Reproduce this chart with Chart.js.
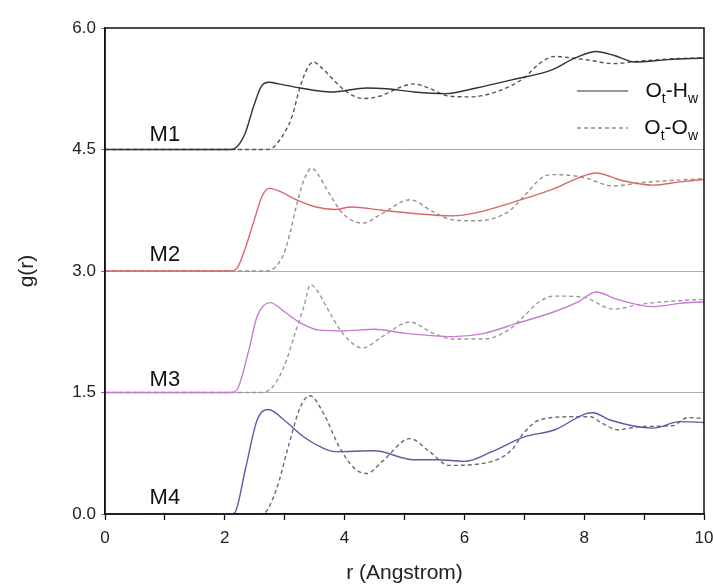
<html>
  <head>
    <script src="https://cdn.jsdelivr.net/npm/chart.js@4.4.1/dist/chart.umd.min.js"></script>
    <style>
      body { margin: 0; background: #fff; }
      #wrap { width: 713px; height: 586px; }
    </style>
  </head>
  <body>
    <div id="wrap"><canvas id="rdf"></canvas></div>

    <script>
      // g(r) curves, shown stacked (M1 on top, M4 at the bottom)
      // each point is [r in Angstrom, plotted g(r)]
      var m1Hw = [[0,4.5],[2.1,4.5],[2.2,4.53],[2.34,4.7],[2.48,5.03],[2.61,5.28],[2.74,5.33],[2.9,5.31],[3.26,5.26],[3.77,5.21],[4.37,5.26],[4.7,5.25],[5.16,5.21],[5.68,5.19],[6.2,5.26],[6.79,5.36],[7.45,5.48],[7.85,5.63],[8.2,5.71],[8.5,5.66],[8.85,5.58],[9.4,5.61],[10,5.63]];
      var m1Ow = [[0,4.5],[2.7,4.5],[2.8,4.52],[2.92,4.62],[3.02,4.74],[3.12,4.9],[3.26,5.28],[3.39,5.52],[3.48,5.58],[3.6,5.52],[3.84,5.34],[4.04,5.21],[4.3,5.13],[4.6,5.16],[4.9,5.26],[5.15,5.31],[5.4,5.26],[5.74,5.16],[6.1,5.15],[6.6,5.23],[6.99,5.38],[7.25,5.56],[7.51,5.65],[7.8,5.63],[8.1,5.6],[8.49,5.56],[8.9,5.59],[9.5,5.62],[10,5.63]];
      var m2Hw = [[0,3],[2.1,3],[2.2,3.03],[2.35,3.3],[2.5,3.65],[2.62,3.92],[2.74,4.02],[2.9,3.99],[3.19,3.88],[3.52,3.79],[3.84,3.76],[4.11,3.79],[4.62,3.75],[5.15,3.71],[5.81,3.68],[6.2,3.72],[6.86,3.86],[7.51,4.02],[7.9,4.15],[8.2,4.21],[8.62,4.12],[9.15,4.06],[9.6,4.1],[10,4.13]];
      var m2Ow = [[0,3],[2.7,3],[2.8,3.02],[2.99,3.22],[3.1,3.5],[3.19,3.79],[3.32,4.12],[3.45,4.27],[3.55,4.2],[3.71,4.0],[3.97,3.71],[4.3,3.59],[4.63,3.71],[5.09,3.88],[5.48,3.73],[5.81,3.63],[6.2,3.62],[6.73,3.73],[6.99,3.92],[7.31,4.16],[7.51,4.19],[7.96,4.16],[8.49,4.05],[8.95,4.09],[9.5,4.12],[10,4.14]];
      var m3Hw = [[0,1.5],[2.1,1.5],[2.2,1.53],[2.4,2.02],[2.54,2.44],[2.76,2.61],[2.99,2.5],[3.26,2.36],[3.58,2.27],[3.97,2.26],[4.5,2.28],[5.02,2.23],[5.81,2.19],[6.33,2.23],[6.86,2.35],[7.51,2.5],[7.9,2.62],[8.2,2.74],[8.55,2.65],[9.15,2.56],[9.6,2.6],[10,2.62]];
      var m3Ow = [[0,1.5],[2.6,1.5],[2.8,1.57],[2.99,1.82],[3.19,2.27],[3.32,2.56],[3.43,2.83],[3.55,2.75],[3.71,2.54],[3.97,2.23],[4.3,2.05],[4.63,2.19],[5.09,2.37],[5.48,2.23],[5.81,2.16],[6.33,2.16],[6.73,2.27],[6.99,2.44],[7.25,2.62],[7.51,2.69],[7.96,2.68],[8.49,2.53],[8.95,2.59],[9.5,2.63],[10,2.65]];
      var m4Hw = [[0,0],[2.1,0],[2.17,0.02],[2.34,0.54],[2.54,1.16],[2.73,1.29],[2.99,1.16],[3.32,0.95],[3.65,0.81],[3.84,0.77],[4.5,0.78],[5.15,0.67],[5.54,0.67],[6.0,0.65],[6.46,0.77],[6.99,0.95],[7.51,1.04],[8.03,1.24],[8.15,1.25],[8.43,1.16],[9.15,1.06],[9.6,1.14],[10,1.13]];
      var m4Ow = [[0,0],[2.63,0],[2.86,0.3],[3.06,0.83],[3.26,1.32],[3.42,1.46],[3.65,1.24],[3.91,0.83],[4.17,0.56],[4.37,0.5],[4.63,0.65],[5.09,0.93],[5.42,0.77],[5.74,0.6],[6.46,0.65],[6.79,0.79],[6.99,1.0],[7.25,1.16],[7.77,1.2],[8.1,1.2],[8.3,1.12],[8.56,1.04],[8.95,1.08],[9.47,1.09],[9.73,1.19],[10,1.18]];

      var models = ['M1', 'M2', 'M3', 'M4'];
      var modelLabelY = [4.68, 3.20, 1.66, 0.20];
      var modelLabelR = 1.0;
      var yTicks = [0, 1.5, 3.0, 4.5, 6.0];
      var legendParts = [['O', 't', '-H', 'w'], ['O', 't', '-O', 'w']];

      var solidColors = ['#333333', '#d46a6e', '#c77bd0', '#5b5ca3'];
      var dashColors = ['#555555', '#a08c8e', '#a094a4', '#6a6a78'];

      Chart.defaults.font.family = '"Liberation Sans", Arial, sans-serif';
      Chart.defaults.color = '#222';

      function toXY(arr) {
        return arr.map(function (p) { return {x: p[0], y: p[1]}; });
      }

      var hw = [m1Hw, m2Hw, m3Hw, m4Hw];
      var ow = [m1Ow, m2Ow, m3Ow, m4Ow];
      var sets = [];
      for (var i = 0; i < 4; i++) {
        sets.push({
          label: models[i] + ' Ot-Hw', data: toXY(hw[i]),
          borderColor: solidColors[i], borderWidth: 1.4, clip: 2,
          pointRadius: 0, fill: false, tension: 0.4, cubicInterpolationMode: 'monotone'
        });
        sets.push({
          label: models[i] + ' Ot-Ow', data: toXY(ow[i]),
          borderColor: dashColors[i], borderWidth: 1.4, borderDash: [4, 3], clip: 2,
          pointRadius: 0, fill: false, tension: 0.4, cubicInterpolationMode: 'monotone'
        });
      }

      function drawRich(ctx, parts, xRight, yMid) {
        var big = '21px "Liberation Sans", Arial, sans-serif';
        var small = '14px "Liberation Sans", Arial, sans-serif';
        var w = 0;
        parts.forEach(function (s, k) {
          ctx.font = (k % 2) ? small : big;
          w += ctx.measureText(s).width;
        });
        var xx = xRight - w;
        parts.forEach(function (s, k) {
          ctx.font = (k % 2) ? small : big;
          ctx.fillText(s, xx, yMid + ((k % 2) ? 8 : 0));
          xx += ctx.measureText(s).width;
        });
      }

      var notes = {
        id: 'notes',
        afterDraw: function (chart) {
          var ctx = chart.ctx, a = chart.chartArea;
          var x = chart.scales.x, y = chart.scales.y;
          ctx.save();
          ctx.strokeStyle = '#111';
          ctx.lineWidth = 1.5;
          ctx.strokeRect(a.left, a.top, a.right - a.left, a.bottom - a.top);

          ctx.fillStyle = '#111';
          ctx.font = '22px "Liberation Sans", Arial, sans-serif';
          ctx.textAlign = 'center';
          ctx.textBaseline = 'middle';
          models.forEach(function (m, k) {
            ctx.fillText(m, x.getPixelForValue(modelLabelR), y.getPixelForValue(modelLabelY[k]));
          });

          // legend, top right
          var rows = [a.top + 63, a.top + 100];
          ctx.lineWidth = 1.2;
          ctx.strokeStyle = '#333';
          ctx.setLineDash([]);
          ctx.beginPath(); ctx.moveTo(a.right - 127, rows[0]); ctx.lineTo(a.right - 76, rows[0]); ctx.stroke();
          ctx.strokeStyle = '#555';
          ctx.setLineDash([4, 3]);
          ctx.beginPath(); ctx.moveTo(a.right - 127, rows[1]); ctx.lineTo(a.right - 76, rows[1]); ctx.stroke();
          ctx.setLineDash([]);
          ctx.textAlign = 'left';
          ctx.fillStyle = '#111';
          drawRich(ctx, legendParts[0], a.right - 6, rows[0]);
          drawRich(ctx, legendParts[1], a.right - 6, rows[1]);
          ctx.restore();
        }
      };

      new Chart(document.getElementById('rdf'), {
        type: 'line',
        data: { datasets: sets },
        plugins: [notes],
        options: {
          responsive: true,
          maintainAspectRatio: false,
          animation: false,
          layout: { padding: { top: 28, right: 9, left: 0, bottom: 0 } },
          plugins: { legend: { display: false }, tooltip: { enabled: false } },
          scales: {
            x: {
              type: 'linear', min: 0, max: 10,
              afterFit: function (s) { s.height = 72; s.paddingLeft = 0; s.paddingRight = 0; },
              border: { color: '#111', width: 1.5 },
              grid: { drawOnChartArea: false, tickLength: 6, tickColor: '#111', tickWidth: 1.3 },
              ticks: {
                stepSize: 1, autoSkip: false, maxRotation: 0, padding: 8,
                font: { size: 17 }, color: '#222',
                callback: function (v) { return (v % 2 === 0) ? String(v) : ''; }
              },
              title: { display: true, text: 'r (Angstrom)', font: { size: 21 }, color: '#222', padding: { top: 0, bottom: 0 } }
            },
            y: {
              min: 0, max: 6,
              afterFit: function (s) { s.width = 105; },
              afterBuildTicks: function (s) { s.ticks = yTicks.map(function (v) { return {value: v}; }); },
              border: { color: '#111', width: 1.5 },
              grid: {
                tickLength: 4, tickColor: '#777',
                color: function (c) {
                  var v = c.tick ? c.tick.value : 0;
                  return (v > 0 && v < 6) ? '#adadad' : 'rgba(0,0,0,0)';
                },
                lineWidth: 1
              },
              ticks: {
                padding: 5, font: { size: 17 }, color: '#222',
                callback: function (v) { return Number(v).toFixed(1); }
              },
              title: { display: true, text: 'g(r)', font: { size: 21 }, color: '#222', padding: { top: 15, bottom: 0 } }
            }
          }
        }
      });
    </script>
  </body>
</html>
